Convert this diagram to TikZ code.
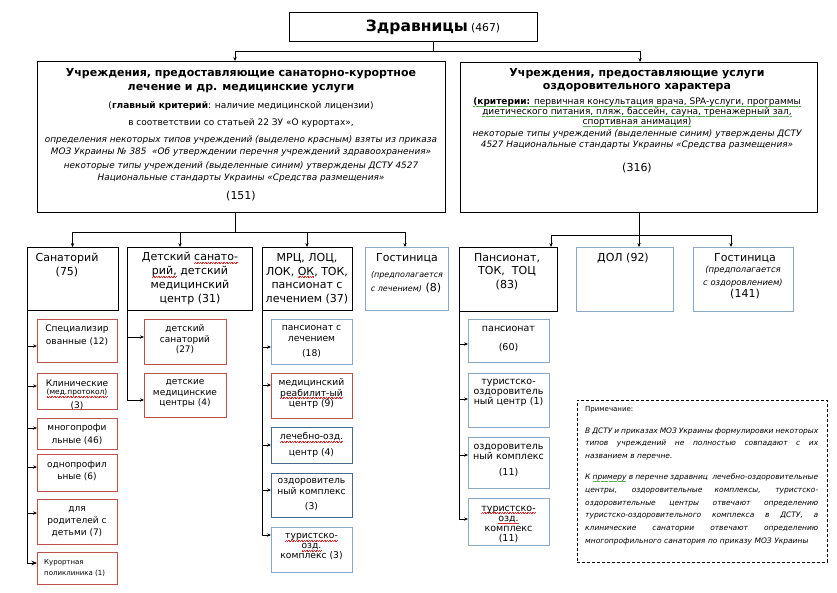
\documentclass[tikz,border=0pt]{standalone}
\usepackage{fontspec}
\setmainfont{DejaVu Sans}
\usetikzlibrary{arrows.meta}
\setlength\parindent{0pt}
\definecolor{boxred}{RGB}{192,80,77}
\definecolor{lblue}{RGB}{140,168,196}
\definecolor{dblue}{RGB}{72,104,136}
\definecolor{wavered}{RGB}{225,40,40}
\definecolor{wavegreen}{RGB}{90,175,90}
\newsavebox\wvbox
\newcommand\wvpat{\hbox{\rule[-2.4pt]{0.8pt}{0.45pt}\rule[-1.8pt]{0.8pt}{0.45pt}}}
\newcommand\gvpat{\hbox{\rule[-2.4pt]{0.6pt}{0.45pt}\hspace{0.5pt}\rule[-1.8pt]{0.6pt}{0.45pt}\hspace{0.5pt}}}
\newcommand\rw[1]{\sbox\wvbox{#1}\rlap{\textcolor{wavered}{\hbox to\wd\wvbox{\xleaders\wvpat\hfill}}}\usebox\wvbox}
\newcommand\gw[1]{\sbox\wvbox{#1}\rlap{\textcolor{wavegreen}{\hbox to\wd\wvbox{\xleaders\gvpat\hfill}}}\usebox\wvbox}
\newcommand\fs[2]{\fontsize{#1}{#2}\selectfont}
\newcommand\bxn[6]{\node[#1, minimum width=#5pt, minimum height=#6pt] (#2) at (#3,#4) {};}
\newcommand\tn[5]{\node[tx, font=#4] (#1) at (#2,#3) {#5};}
\newcommand\jl[1]{{\spaceskip=0.3em plus 1fil minus 0.12em\makebox[233pt][s]{#1}}\\}
\tikzset{
 bx/.style={draw, line width=0.9pt, anchor=north west, inner sep=0pt, outer sep=0pt},
 rb/.style={bx, draw=boxred},
 lb/.style={bx, draw=lblue},
 db/.style={bx, draw=dblue},
 tx/.style={inner sep=0pt, align=center, anchor=center},
 con/.style={line width=0.8pt},
 arr/.style={con, -{Stealth[length=4pt,width=3.4pt]}},
 bigarr/.style={con, -{Stealth[length=5.5pt,width=4.5pt]}},
}
\begin{document}
\begin{tikzpicture}[x=1pt,y=-1pt]
\useasboundingbox[fill=white] (0,0) rectangle (837,592);

% top
\bxn{bx}{top}{289}{12}{248}{29}
\node[tx] (topt) at (433,27) {{\fs{15.5}{18}\bfseries Здравницы} {\fs{10.8}{12}(467)}};

% left big box
\bxn{bx}{med}{37}{61}{408}{151}
\tn{mt1}{241}{80.5}{\bfseries\fs{11}{14.5}}{Учреждения, предоставляющие санаторно-курортное\\лечение и др. медицинские услуги}
\tn{mt2}{241}{106}{\fs{9}{10}}{(\textbf{главный критерий}: наличие медицинской лицензии)}
\tn{mt3}{241}{123}{\fs{9}{10}}{в соответствии со статьей 22 ЗУ «О курортах»,}
\tn{mt4}{241}{146}{\itshape\fs{8.9}{12}}{определения некоторых типов учреждений (выделено красным) взяты из приказа\\МОЗ Украины № 385\ \ «Об утверждении перечня учреждений здравоохранения»}
\tn{mt5}{241}{172}{\itshape\fs{8.9}{12}}{некоторые типы учреждений (выделенные синим) утверждены ДСТУ 4527\\Национальные стандарты Украины «Средства размещения»}
\tn{mt6}{241}{196}{\fs{11}{12}}{(151)}

% right big box
\bxn{bx}{ozd}{460}{62}{357}{150}
\tn{ot1}{637}{80.5}{\bfseries\fs{11}{13}}{Учреждения, предоставляющие услуги\\оздоровительного характера}
\tn{ot2}{637}{112}{\fs{9}{10}}{\gw{\textbf{(критерии:} первичная консультация врача, SPA-услуги, программы}\\\gw{диетического питания, пляж, бассейн, сауна, тренажерный зал,}\\\gw{спортивная анимация)}}
\tn{ot3}{637}{139.5}{\itshape\fs{8.9}{11}}{некоторые типы учреждений (выделенные синим) утверждены ДСТУ\\4527 Национальные стандарты Украины «Средства размещения»}
\tn{ot4}{637}{168}{\fs{11}{12}}{(316)}

% top connectors
\coordinate (j0) at (433,51);
\draw[con] (top.south -| j0) -- (j0);
\draw[arr] (j0) -| ([xshift=-6pt]med.north);
\draw[arr] (j0) -| ([xshift=1.5pt]ozd.north);

% level 2 left
\bxn{bx}{san}{27}{247}{91}{63}
\bxn{bx}{det}{127}{247}{125}{63}
\bxn{bx}{mrc}{262}{247}{90}{63}
\bxn{lb}{gos1}{365}{247}{83}{63}
\tn{sant}{67}{265}{\fs{11}{14}}{Санаторий\\(75)}
\tn{dett}{190}{278.5}{\fs{11}{13.7}}{Детский \rw{санато-}\\\rw{рий,} детский\\медицинский\\центр (31)}
\tn{mrct}{307}{278.5}{\fs{11}{13.7}}{МРЦ, ЛОЦ,\\ЛОК, \rw{ОК}, ТОК,\\пансионат с\\лечением (37)}
\tn{g1a}{407}{258}{\fs{11}{13}}{Гостиница}
\tn{g1b}{407}{275}{\itshape\fs{8}{9}}{(предполагается}
\tn{g1c}{406}{288}{\fs{11}{13}}{{\itshape\fs{8}{9}с лечением)} (8)}

\coordinate (j1) at (235,232);
\draw[con] (med.south -| j1) -- (j1);
\draw[arr] (j1) -| (san.north);
\draw[arr] (j1) -| ([xshift=-9.5pt]det.north);
\draw[arr] (j1) -| (mrc.north);
\draw[arr] (j1) -| ([xshift=-1.5pt]gos1.north);

% level 2 right
\bxn{bx}{pans}{459}{247}{98}{64}
\bxn{lb}{dol}{576}{247}{97}{64}
\bxn{lb}{gos2}{693}{247}{100}{64}
\tn{pant}{507}{271.5}{\fs{11}{13.5}}{Пансионат,\\ТОК,\ \ ТОЦ\\(83)}
\tn{dolt}{623}{258}{\fs{11}{13}}{ДОЛ (92)}
\tn{g2a}{745}{258}{\fs{11}{13}}{Гостиница}
\tn{g2b}{743}{276.5}{\itshape\fs{8.4}{12.5}}{(предполагается\\с оздоровлением)}
\tn{g2c}{745}{294}{\fs{11}{13}}{(141)}

\coordinate (j2) at (639,235);
\draw[con] (ozd.south -| j2) -- (j2);
\draw[arr] (j2) -| ([xshift=43pt]pans.north);
\draw[arr] (j2) -| ([xshift=14.5pt]dol.north);
\draw[arr] (j2) -| ([xshift=-12pt]gos2.north);

% Sanatorium children
\bxn{rb}{c1}{37}{319}{80}{43}
\bxn{rb}{c2}{37}{373}{80}{36}
\bxn{rb}{c3}{37}{418}{80}{31}
\bxn{rb}{c4}{37}{454}{80}{37}
\bxn{rb}{c5}{37}{499}{80}{45}
\bxn{rb}{c6}{37}{552}{80}{32}
\tn{c1t}{77}{335}{\fs{9}{13.3}}{Специализир\\ованные (12)}
\tn{c2a}{77}{383}{\fs{9}{11}}{Клинические}
\tn{c2b}{77}{393}{\fs{7.5}{9}}{\rw{(мед.протокол)}}
\begin{scope}
\clip (c2.north west) rectangle (c2.south east);
\tn{c2c}{77}{406}{\fs{9}{11}}{(3)}
\end{scope}
\tn{c3t}{77}{434.5}{\fs{9}{13}}{многопрофи\\льные (46)}
\tn{c4t}{77}{471}{\fs{9}{12}}{однопрофил\\ьные (6)}
\tn{c5t}{77}{522}{\fs{9}{12}}{для\\родителей с\\детьми (7)}
\node[inner sep=0pt, align=left, anchor=west, font=\fs{7}{11}] (c6t) at (44,567.5) {Курортная\\поликлиника (1)};

\draw[bigarr] (san.south west) |- ([yshift=5pt]c6.west);
\draw[arr] ([yshift=-5.5pt]c1.west -| san.west) -- ([yshift=-5.5pt]c1.west);
\draw[arr] ([yshift=5pt]c2.west -| san.west) -- ([yshift=5pt]c2.west);
\draw[arr] ([yshift=5.5pt]c3.west -| san.west) -- ([yshift=5.5pt]c3.west);
\draw[arr] ([yshift=5.5pt]c4.west -| san.west) -- ([yshift=5.5pt]c4.west);
\draw[arr] ([yshift=8.5pt]c5.west -| san.west) -- ([yshift=8.5pt]c5.west);

% Detsky children
\bxn{rb}{d1}{144}{319}{82}{45}
\bxn{rb}{d2}{144}{373}{82}{44}
\tn{d1t}{185}{339.5}{\fs{9}{10.5}}{детский\\санаторий\\(27)}
\tn{d2t}{185}{393.5}{\fs{9}{10.5}}{детские\\медицинские\\центры (4)}
\draw[arr] (det.south west) |- ([yshift=-5pt]d2.west);
\draw[arr] ([yshift=4.5pt]d1.west -| det.west) -- ([yshift=4.5pt]d1.west);

% MRC children
\bxn{lb}{m1}{271}{319}{81}{45}
\bxn{rb}{m2}{271}{373}{81}{45}
\bxn{db}{m3}{271}{427}{81}{36}
\bxn{db}{m4}{271}{473}{81}{44}
\bxn{lb}{m5}{271}{527}{81}{45}
\tn{m1t}{311.5}{342}{\fs{9.2}{11}}{пансионат с\\лечением\\[4pt](18)}
\tn{m2t}{311.5}{393.5}{\fs{9.2}{10.5}}{медицинский\\\rw{реабилит-ый}\\центр (9)}
\tn{m3t}{311.5}{445}{\fs{9.2}{16}}{\rw{лечебно-озд.}\\центр (4)}
\tn{m4t}{311.5}{495}{\fs{9.2}{11}}{оздоровитель\\ный комплекс\\[4pt](3)}
\tn{m5t}{311.5}{547}{\fs{9.2}{10}}{\rw{туристско-}\\\rw{озд.}\\комплекс (3)}
\draw[arr] (mrc.south west) |- ([yshift=14.5pt]m5.west);
\draw[arr] ([yshift=-5.5pt]m1.west -| mrc.west) -- ([yshift=-5.5pt]m1.west);
\draw[arr] ([yshift=10.5pt]m2.west -| mrc.west) -- ([yshift=10.5pt]m2.west);
\draw[arr] (m3.west -| mrc.west) -- (m3.west);
\draw[arr] ([yshift=5pt]m4.west -| mrc.west) -- ([yshift=5pt]m4.west);

% Pansionat children
\bxn{lb}{p1}{468}{319}{81}{43}
\bxn{lb}{p2}{468}{373}{81}{54}
\bxn{lb}{p3}{468}{437}{81}{51}
\bxn{lb}{p4}{468}{498}{81}{47}
\tn{p1t}{508.5}{338.5}{\fs{9.5}{11}}{пансионат\\[8pt](60)}
\tn{p2t}{508.5}{393}{\fs{9.5}{10}}{туристско-\\оздоровитель\\ный центр (1)}
\tn{p3t}{508.5}{460}{\fs{9.5}{10}}{оздоровитель\\ный комплекс\\[6pt](11)}
\tn{p4t}{508.5}{524.5}{\fs{9.5}{10.3}}{\rw{туристско-}\\\rw{озд.}\\комплекс\\(11)}
\draw[arr] (pans.south west) |- ([yshift=2.5pt]p4.west);
\draw[arr] ([yshift=-3.5pt]p1.west -| pans.west) -- ([yshift=-3.5pt]p1.west);
\draw[arr] ([yshift=1pt]p2.west -| pans.west) -- ([yshift=1pt]p2.west);
\draw[arr] ([yshift=7.5pt]p3.west -| pans.west) -- ([yshift=7.5pt]p3.west);

% note
\node[draw, dashed, dash pattern=on 3pt off 2pt, line width=0.8pt, anchor=north west, inner sep=0pt, minimum width=250pt, minimum height=162pt] (note) at (577,400) {};
\node[inner sep=0pt, anchor=west, font=\fs{7}{9}] (notet) at (585,410) {Примечание:};
\node[inner sep=0pt, anchor=north west, align=left, text width=233pt, font=\itshape\fs{7.5}{12.5}] (np1) at (585,427.5) {\jl{В ДСТУ и приказах МОЗ Украины формулировки некоторых}\jl{типов учреждений не полностью совпадают с их}названием в перечне.};
\node[inner sep=0pt, anchor=north west, align=left, text width=233pt, font=\itshape\fs{7.5}{12.8}] (np2) at (585,473.5) {\jl{К \gw{примеру} в перечне здравниц\ \ лечебно-оздоровительные}\jl{центры, оздоровительные комплексы, туристско-}\jl{оздоровительные центры отвечают определению}\jl{туристско-оздоровительного комплекса в ДСТУ, а}\jl{клинические санатории отвечают определению}многопрофильного санатория по приказу МОЗ Украины};
\end{tikzpicture}
\end{document}
